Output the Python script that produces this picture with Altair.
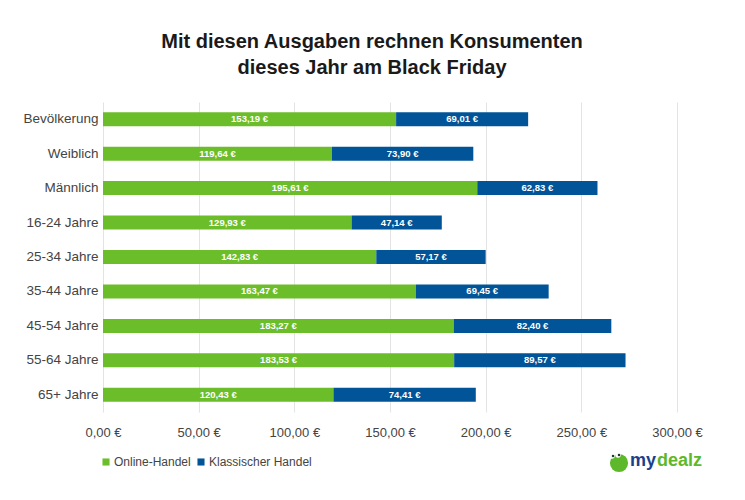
import altair as alt
import pandas as pd

categories = ["Bevölkerung", "Weiblich", "Männlich", "16-24 Jahre", "25-34 Jahre",
              "35-44 Jahre", "45-54 Jahre", "55-64 Jahre", "65+ Jahre"]
online = [153.19, 119.64, 195.61, 129.93, 142.83, 163.47, 183.27, 183.53, 120.43]
klassisch = [69.01, 73.90, 62.83, 47.14, 57.17, 69.45, 82.40, 89.57, 74.41]
series = ["Online-Handel", "Klassischer Handel"]
colors = ["#6CBD2A", "#005497"]
x_ticks = [0, 50, 100, 150, 200, 250, 300]

rows = []
for c, o, k in zip(categories, online, klassisch):
    rows.append({"cat": c, "series": series[0], "start": 0.0, "end": o, "val": o})
    rows.append({"cat": c, "series": series[1], "start": o, "end": o + k, "val": k})
df = pd.DataFrame(rows)
df["mid"] = (df["start"] + df["end"]) / 2
df["label"] = df["val"].map(lambda v: f"{v:.2f}".replace(".", ",") + " €")

base = alt.Chart(df)

y_enc = alt.Y("cat:N", sort=categories, title=None,
              scale=alt.Scale(paddingInner=0.0, paddingOuter=0.0),
              axis=alt.Axis(domain=False, ticks=False, labelFontSize=13.5,
                            labelColor="#444444", labelPadding=5,
                            labelFont="Liberation Sans", grid=False))

bars = base.mark_bar(size=14).encode(
    x=alt.X("start:Q", title=None,
            scale=alt.Scale(domain=[0, 300], nice=False),
            axis=alt.Axis(values=x_ticks, domain=False, ticks=False, labelFlush=False,
                          labelExpr="replace(format(datum.value, '.2f'), '.', ',') + ' €'",
                          labelFontSize=13, labelColor="#444444", labelPadding=14,
                          labelFont="Liberation Sans",
                          gridColor="#E3E3E3", gridWidth=1)),
    x2="end:Q",
    y=y_enc,
    color=alt.Color("series:N", sort=series,
                    scale=alt.Scale(domain=series, range=colors),
                    legend=alt.Legend(title=None, orient="none", direction="horizontal",
                                      legendX=-3, legendY=354, padding=0,
                                      symbolType="square", symbolSize=50,
                                      symbolStrokeWidth=0, labelFontSize=12,
                                      labelColor="#444444", labelFont="Liberation Sans",
                                      labelOffset=2, columnPadding=4)),
)

texts = base.mark_text(color="white", fontWeight="bold", fontSize=9.5,
                       font="Liberation Sans").encode(
    x=alt.X("mid:Q"),
    y=alt.Y("cat:N", sort=categories),
    text="label:N",
)

one = pd.DataFrame({"k": [0]})
logo_circle = alt.Chart(one).mark_point(
    filled=True, shape="circle", size=330, color="#5DB82A", opacity=1).encode(
    x=alt.value(516), y=alt.value(361))
logo_eye1 = alt.Chart(one).mark_point(
    filled=True, shape="circle", size=30, color="white", opacity=1).encode(
    x=alt.value(509), y=alt.value(354))
logo_eye2 = alt.Chart(one).mark_point(
    filled=True, shape="circle", size=30, color="white", opacity=1).encode(
    x=alt.value(515), y=alt.value(353))
logo_pupil1 = alt.Chart(one).mark_point(
    filled=True, shape="circle", size=6, color="#1B3F2B", opacity=1).encode(
    x=alt.value(510), y=alt.value(354))
logo_pupil2 = alt.Chart(one).mark_point(
    filled=True, shape="circle", size=6, color="#1B3F2B", opacity=1).encode(
    x=alt.value(516), y=alt.value(353))
logo_my = alt.Chart(one).mark_text(
    text="my", fontSize=18, fontWeight="bold", font="Liberation Sans",
    color="#1B3F8B", align="left", baseline="middle").encode(
    x=alt.value(527), y=alt.value(359))
logo_dealz = alt.Chart(one).mark_text(
    text="dealz", fontSize=18, fontWeight="bold", font="Liberation Sans",
    color="#5DB82A", align="left", baseline="middle").encode(
    x=alt.value(554), y=alt.value(359))

chart = alt.layer(bars, texts, logo_circle, logo_eye1, logo_eye2, logo_pupil1,
                  logo_pupil2, logo_my, logo_dealz).properties(
    width=574, height=310,
    autosize=alt.AutoSizeParams(type="none"),
    padding={"left": 95, "top": 94, "right": 60, "bottom": 80},
    title=alt.TitleParams(
        text=["Mit diesen Ausgaben rechnen Konsumenten", "dieses Jahr am Black Friday"],
        fontSize=20, font="Liberation Sans", fontWeight="bold", color="#1a1a1a",
        anchor="middle", dx=-18, offset=24, lineHeight=26),
).configure(background="white").configure_view(stroke=None)

chart.save("out.html", embed_options={"renderer": "svg", "actions": False})
